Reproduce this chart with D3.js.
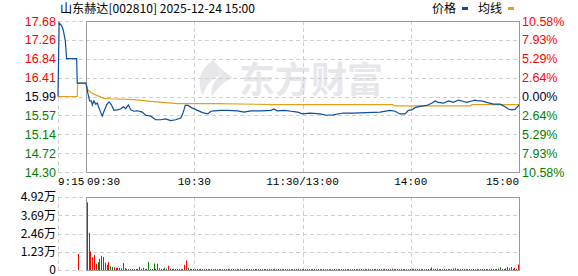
<!DOCTYPE html>
<html>
<head>
<meta charset="utf-8">
<script src="https://cdn.jsdelivr.net/npm/d3@7"></script>
<style>
  body { margin: 0; background: #fff; }
  text { font-family: "Liberation Sans", Arial, sans-serif; }
  .cjk { font-family: "Noto Sans CJK SC", sans-serif; }
  .mono { font-family: "Liberation Mono", monospace; }
</style>
</head>
<body>
<script>
var width = 578,
    height = 276;

// axis levels
var priceLevels = [17.68, 17.26, 16.84, 16.41, 15.99, 15.57, 15.14, 14.72, 14.30];
var pctLabels = ["10.58%", "7.93%", "5.29%", "2.64%", "0.00%", "2.64%", "5.29%", "7.93%", "10.58%"];
var volLevels = [4.92, 3.69, 2.46, 1.23, 0];
var volLabels = ["4.92万", "3.69万", "2.46万", "1.23万", "0"];
var prevClose = 15.99;

// time ticks: minutes since 9:15, lunch break removed
var tickLabels = ["9:15", "09:30", "10:30", "11:30/13:00", "14:00", "15:00"];
var tickMins = [0, 15, 75, 135, 195, 255];

// call auction 9:15-9:30 (minutes since 9:15)
var preMin = [0, 0.6, 2.0, 2.8, 3.9, 4.6, 10.0, 10.3, 15];
var prePrice = [15.99, 17.64, 17.57, 17.48, 17.24, 16.84, 16.84, 16.29, 16.29];
var preAvgMin = [0, 10.3, 10.6, 15];
var preAvg = [15.99, 15.99, 16.29, 16.29];

// continuous trading (minutes since 9:30)
var priceMin = [0, 1, 2, 3, 3.5, 4.4, 5.4, 6.3, 7.2, 9, 10, 11.5, 12.8, 14, 15.5, 17.4, 19.2, 20.7, 22, 23.5,
  24.8, 26.6, 28.5, 31.2, 33.1, 35.9, 38.6, 41.4, 44.1, 47, 49.7, 52.5, 53.4, 54.3, 55, 56.5, 59, 61.8, 64.6, 67.5,
  69.2, 71, 74.7, 78.3, 84, 87.6, 91.3, 96.9, 102.5, 104.2, 106, 110, 113.6, 117.3, 120, 124.2, 129.7, 133.4, 137.1, 142.6,
  148.2, 155.6, 163, 168.5, 171.3, 174, 176.8, 178.7, 180.5, 182.4, 185.1, 188.9, 191.6, 193.5, 195.3, 198.1, 200.9, 203.6, 206.4, 208.3,
  211, 213.8, 215.6, 217.5, 219.3, 222.1, 225.8, 229.5, 232.3, 234.1, 236, 237.8, 239.1, 240];
var priceVal = [16.29, 16.07, 15.89, 15.89, 15.80, 15.89, 15.82, 15.84, 15.73, 15.55, 15.66, 15.81, 15.87, 15.81, 15.68, 15.69, 15.71, 15.76, 15.72, 15.80,
  15.69, 15.66, 15.67, 15.64, 15.57, 15.55, 15.47, 15.47, 15.49, 15.45, 15.47, 15.51, 15.58, 15.69, 15.79, 15.79, 15.73, 15.68, 15.63, 15.60,
  15.66, 15.67, 15.68, 15.68, 15.67, 15.64, 15.67, 15.67, 15.68, 15.71, 15.67, 15.68, 15.66, 15.64, 15.60, 15.62, 15.60, 15.57, 15.58, 15.62,
  15.62, 15.63, 15.64, 15.68, 15.66, 15.60, 15.60, 15.68, 15.69, 15.74, 15.77, 15.79, 15.84, 15.89, 15.86, 15.84, 15.89, 15.86, 15.91, 15.89,
  15.86, 15.89, 15.91, 15.89, 15.89, 15.86, 15.82, 15.82, 15.76, 15.71, 15.69, 15.70, 15.76, 15.80];
var avgMin = [0, 1, 2.6, 6.3, 10, 13.7, 26.6, 35.9, 50.6, 72.8, 104.2, 170, 171, 213, 214, 240];
var avgVal = [16.29, 16.14, 16.08, 16.01, 15.95, 15.94, 15.92, 15.88, 15.83, 15.83, 15.81, 15.81, 15.78, 15.78, 15.81, 15.81];

// volume (万), auction bar then one bar per minute 9:31..15:00; up: 1 red, 0 green
var preVolMin = 11;
var preVol = 1.08;
var volume = [
  4.56, 2.50, 1.24, 0.86, 1.02, 0.42, 0.53, 0.75, 0.95, 0.88, 0.49, 0.35, 0.53, 0.24, 0.20, 0.17, 0.15, 0.15, 0.15, 0.12,
  0.47, 0.12, 0.08, 0.07, 0.07, 0.07, 0.07, 0.07, 0.08, 0.22, 0.08, 0.15, 0.07, 0.07, 0.55, 0.08, 0.07, 0.44, 0.08, 0.42,
  0.12, 0.07, 0.07, 0.15, 0.07, 0.29, 0.08, 0.07, 0.08, 0.07, 0.07, 0.07, 0.07, 0.07, 0.35, 0.64, 0.15, 0.08, 0.07, 0.07,
  0.06, 0.07, 0.06, 0.08, 0.06, 0.06, 0.07, 0.06, 0.06, 0.07, 0.06, 0.08, 0.06, 0.07, 0.06, 0.06, 0.07, 0.06, 0.08, 0.06,
  0.07, 0.06, 0.06, 0.07, 0.06, 0.09, 0.06, 0.07, 0.06, 0.06, 0.07, 0.06, 0.06, 0.07, 0.06, 0.08, 0.06, 0.06, 0.07, 0.06,
  0.06, 0.07, 0.06, 0.06, 0.08, 0.06, 0.07, 0.06, 0.06, 0.07, 0.06, 0.06, 0.07, 0.06, 0.06, 0.07, 0.06, 0.08, 0.06, 0.06,
  0.07, 0.06, 0.06, 0.07, 0.06, 0.06, 0.08, 0.06, 0.07, 0.06, 0.06, 0.07, 0.06, 0.06, 0.07, 0.06, 0.06, 0.07, 0.06, 0.06,
  0.07, 0.06, 0.06, 0.07, 0.06, 0.08, 0.06, 0.06, 0.07, 0.06, 0.06, 0.07, 0.06, 0.06, 0.07, 0.06, 0.08, 0.06, 0.06, 0.07,
  0.06, 0.06, 0.07, 0.06, 0.06, 0.08, 0.06, 0.07, 0.06, 0.09, 0.06, 0.07, 0.06, 0.06, 0.08, 0.06, 0.07, 0.06, 0.06, 0.07,
  0.08, 0.06, 0.07, 0.06, 0.08, 0.06, 0.07, 0.06, 0.06, 0.07, 0.08, 0.17, 0.06, 0.07, 0.10, 0.06, 0.07, 0.06, 0.08, 0.06,
  0.07, 0.06, 0.07, 0.10, 0.12, 0.08, 0.06, 0.07, 0.06, 0.07, 0.06, 0.06, 0.07, 0.06, 0.08, 0.06, 0.07, 0.06, 0.06, 0.07,
  0.06, 0.07, 0.06, 0.06, 0.08, 0.07, 0.06, 0.07, 0.09, 0.18, 0.08, 0.07, 0.10, 0.20, 0.12, 0.20, 0.08, 0.15, 0.09, 0.37];
var volUp = [
  0,0,1,1,1,1,0,0,0,0,1,1,1,0,0,1,1,1,1,1,
  1,1,0,1,1,0,1,1,0,0,1,0,1,0,0,0,1,0,0,1,
  1,0,1,0,0,1,1,0,0,1,1,0,1,1,1,1,0,0,0,0,
  1,0,1,0,1,1,0,1,0,1,1,0,1,0,0,1,1,0,1,0,
  1,1,0,1,0,0,1,1,0,1,0,1,1,0,1,0,0,1,1,0,
  1,0,1,1,0,1,0,0,1,1,0,1,0,1,1,0,1,0,0,1,
  0,1,1,0,1,0,1,1,0,0,1,1,0,1,0,1,1,0,1,0,
  1,1,0,1,0,1,1,0,1,1,0,1,0,0,1,1,0,1,0,1,
  0,1,1,0,1,1,0,1,0,1,0,0,1,0,0,1,1,0,1,1,
  1,1,0,1,1,0,1,1,0,1,1,1,0,1,1,0,1,0,1,0,
  1,0,1,1,1,0,1,0,0,1,0,1,0,1,1,0,0,1,0,0,
  1,0,0,1,0,0,1,0,0,0,1,0,0,0,0,1,0,1,0,1];

var red = "#ff0000", green = "#008000", blue = "#0a4f9e", gold = "#e0a11b";
var gridColor = "#cfcfcf", borderColor = "#999";

var x = d3.scaleLinear().domain([0, 15, 255]).range([58, 86, 519]);
var y = d3.scaleLinear().domain([14.30, 17.68]).range([172, 21]);
var yv = d3.scaleLinear().domain([0, 4.92]).range([270, 197]);

var svg = d3.select("body").append("svg")
    .attr("width", width)
    .attr("height", height);

// watermark
var wm = svg.append("g").attr("fill", "#e7e7eb");
wm.append("path")
    .attr("d", "M214,60 C200,68 196,82 203,96 C205,86 212,78 222,74 C214,80 210,88 212,97 C218,86 226,80 233,78 C226,72 218,68 214,60 Z");
wm.append("text")
    .attr("class", "cjk")
    .attr("x", 239)
    .attr("y", 93)
    .style("font-size", "36px")
    .style("font-weight", "bold")
    .text("东方财富");

function hGrid(g, ys, x0, x1) {
  g.selectAll(null).data(ys).enter().append("line")
      .attr("x1", x0).attr("x2", x1)
      .attr("y1", function(d) { return Math.round(d) + 0.5; })
      .attr("y2", function(d) { return Math.round(d) + 0.5; })
      .attr("stroke", gridColor)
      .attr("stroke-dasharray", "4,3");
}
function vGrid(g, xs, y0, y1) {
  g.selectAll(null).data(xs).enter().append("line")
      .attr("y1", y0).attr("y2", y1)
      .attr("x1", function(d) { return Math.round(d) + 0.5; })
      .attr("x2", function(d) { return Math.round(d) + 0.5; })
      .attr("stroke", gridColor)
      .attr("stroke-dasharray", "4,3");
}

var grid = svg.append("g");
hGrid(grid, priceLevels.map(y), x(0), x(255));
vGrid(grid, [0, 75, 135, 195].map(x), y(17.68), y(14.30));
hGrid(grid, volLevels.map(yv), x(0), x(255));
vGrid(grid, [0, 75, 135, 195].map(x), yv(4.92), yv(0));

// borders of the trading session boxes
svg.append("rect")
    .attr("x", Math.round(x(15)) + 0.5).attr("y", Math.round(y(17.68)) + 0.5)
    .attr("width", Math.round(x(255)) - Math.round(x(15)))
    .attr("height", Math.round(y(14.30)) - Math.round(y(17.68)))
    .attr("fill", "none").attr("stroke", borderColor);
svg.append("rect")
    .attr("x", Math.round(x(15)) + 0.5).attr("y", Math.round(yv(4.92)) + 0.5)
    .attr("width", Math.round(x(255)) - Math.round(x(15)))
    .attr("height", Math.round(yv(0)) - Math.round(yv(4.92)))
    .attr("fill", "none").attr("stroke", borderColor);

// price + average lines
var pricePts = preMin.map(function(m, i) { return [m, prePrice[i]]; })
    .concat(priceMin.map(function(m, i) { return [m + 15, priceVal[i]]; }));
var avgPts = preAvgMin.map(function(m, i) { return [m, preAvg[i]]; })
    .concat(avgMin.map(function(m, i) { return [m + 15, avgVal[i]]; }));

var line = d3.line()
    .x(function(d) { return x(d[0]); })
    .y(function(d) { return y(d[1]); });

svg.append("path").datum(avgPts)
    .attr("d", line).attr("fill", "none")
    .attr("stroke", gold).attr("stroke-width", 1.2);
svg.append("path").datum(pricePts)
    .attr("d", line).attr("fill", "none")
    .attr("stroke", blue).attr("stroke-width", 1.2);

// volume bars
var bars = [{ m: preVolMin, v: preVol, up: 1 }].concat(volume.map(function(v, i) {
  return { m: i + 16, v: v, up: volUp[i] };
}));
svg.append("g").selectAll("rect")
    .data(bars)
    .enter().append("rect")
    .attr("x", function(d) { return Math.round(x(d.m)) - 1; })
    .attr("width", 1)
    .attr("y", function(d) { return yv(d.v); })
    .attr("height", function(d) { return yv(0) - yv(d.v); })
    .attr("fill", function(d) { return d.up ? red : green; });

// left price labels
function levelColor(i) { return i < 4 ? red : (i == 4 ? "#000033" : green); }
svg.append("g").selectAll("text")
    .data(priceLevels)
    .enter().append("text")
    .attr("x", 56)
    .attr("y", function(d) { return y(d); })
    .attr("dy", "0.36em")
    .attr("text-anchor", "end")
    .style("font-size", "12.5px")
    .attr("fill", function(d, i) { return levelColor(i); })
    .text(function(d) { return d.toFixed(2); });

// right percent labels
svg.append("g").selectAll("text")
    .data(pctLabels)
    .enter().append("text")
    .attr("x", 522)
    .attr("y", function(d, i) { return y(priceLevels[i]); })
    .attr("dy", "0.36em")
    .style("font-size", "12.5px")
    .attr("fill", function(d, i) { return levelColor(i); })
    .text(function(d) { return d; });

// volume labels
svg.append("g").selectAll("text")
    .data(volLabels)
    .enter().append("text")
    .attr("class", "cjk")
    .attr("x", 56)
    .attr("y", function(d, i) { return yv(volLevels[i]); })
    .attr("dy", "0.36em")
    .attr("text-anchor", "end")
    .style("font-size", "12px")
    .attr("fill", "#000")
    .text(function(d) { return d; });

// time labels
svg.append("g").selectAll("text")
    .data(tickLabels)
    .enter().append("text")
    .attr("class", "mono")
    .attr("x", function(d, i) {
      if (i == 0) return x(tickMins[i]);
      if (i == 1) return x(tickMins[i]) + 1;
      return x(tickMins[i]);
    })
    .attr("y", 185)
    .attr("text-anchor", function(d, i) { return i < 2 ? "start" : (i == tickLabels.length - 1 ? "end" : "middle"); })
    .style("font-size", "11px")
    .attr("fill", "#000")
    .text(function(d) { return d; });

// title
svg.append("text")
    .attr("class", "cjk")
    .attr("x", 60)
    .attr("y", 13)
    .attr("textLength", 195)
    .attr("lengthAdjust", "spacingAndGlyphs")
    .style("font-size", "12px")
    .attr("fill", "#000")
    .text("山东赫达[002810] 2025-12-24 15:00");

// legend
var legend = [{ name: "价格", x: 432, color: blue }, { name: "均线", x: 478, color: gold }];
var lg = svg.append("g").selectAll("g").data(legend).enter().append("g");
lg.append("text")
    .attr("class", "cjk")
    .attr("x", function(d) { return d.x; })
    .attr("y", 13)
    .style("font-size", "12px")
    .attr("fill", "#000")
    .text(function(d) { return d.name; });
lg.append("rect")
    .attr("x", function(d) { return d.x + 30; })
    .attr("y", 7)
    .attr("width", 6)
    .attr("height", 3)
    .attr("fill", function(d) { return d.color; });
</script>
</body>
</html>
